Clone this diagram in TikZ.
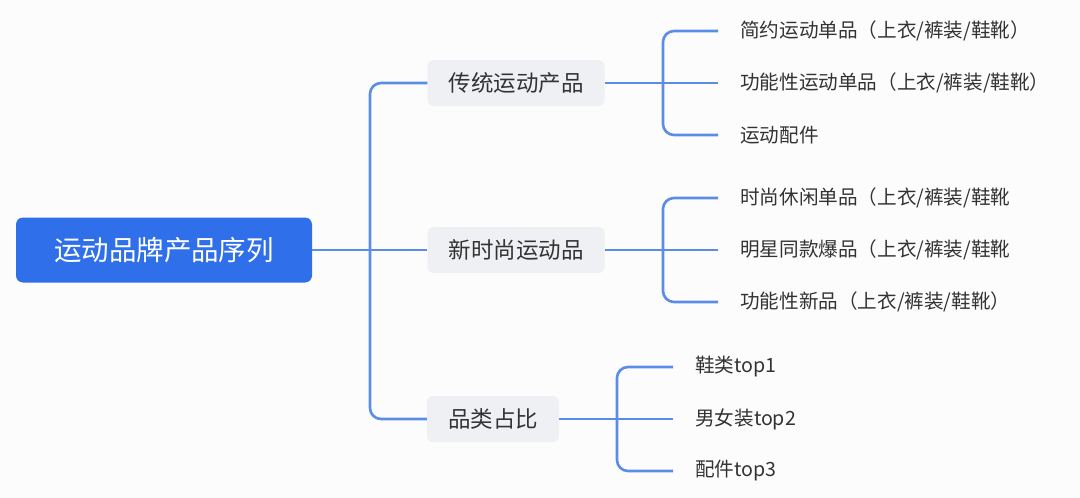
\documentclass[tikz,border=0pt]{standalone}
\usepackage{fontspec}
\setmainfont{Noto Sans CJK SC}
\definecolor{rootblue}{HTML}{2F6FEA}
\definecolor{linkblue}{HTML}{5B8CE6}
\definecolor{boxgray}{HTML}{EEF0F3}
\definecolor{txt}{HTML}{333333}
\definecolor{bg}{HTML}{FCFCFD}
\begin{document}
\begin{tikzpicture}[x=1pt,y=-1pt,
  rootbox/.style={fill=rootblue, rounded corners=7pt, minimum width=296pt, minimum height=65pt,
    text=white, font=\fontsize{27.5}{32}\selectfont, inner sep=0pt},
  branchbox/.style={fill=boxgray, rounded corners=6pt, minimum height=46pt, inner xsep=21pt,
    text=txt, font=\fontsize{22.5}{27}\selectfont},
  leaf/.style={anchor=west, inner xsep=22pt, inner ysep=0pt, text=txt,
    font=\fontsize{19.6}{24}\selectfont},
  conn/.style={draw=linkblue, line width=2.6pt, rounded corners=11pt}]
\useasboundingbox[fill=bg] (0,0) rectangle (1080,498);
% root and branches
\node[rootbox] (root) at (164,250) {运动品牌产品序列};
\node[branchbox] (b1) at (516,83) {传统运动产品};
\node[branchbox] (b2) at (516,250) {新时尚运动品};
\node[branchbox] (b3) at (493,419) {品类占比};
\coordinate (sp) at (370,250);
% leaves
\node[leaf] (l11) at (718,31) {简约运动单品（上衣/裤装/鞋靴）};
\node[leaf] (l12) at (718,83) {功能性运动单品（上衣/裤装/鞋靴）};
\node[leaf] (l13) at (718,135) {运动配件};
\node[leaf] (l21) at (718,198) {时尚休闲单品（上衣/裤装/鞋靴};
\node[leaf] (l22) at (718,250) {明星同款爆品（上衣/裤装/鞋靴};
\node[leaf] (l23) at (718,302) {功能性新品（上衣/裤装/鞋靴）};
\node[leaf] (l31) at (673,367) {鞋类top1};
\node[leaf] (l32) at (673,419) {男女装top2};
\node[leaf] (l33) at (673,471) {配件top3};
\coordinate (j1) at (663,83);
\coordinate (j2) at (663,250);
\coordinate (j3) at (617,419);
% connectors
\draw[conn] (root.east) -- (b2.west);
\draw[conn] (b1.west) -| (sp) |- (b3.west);
\draw[conn] (b1.east) -- (l12.west);
\draw[conn] (l11.west) -| (j1) |- (l13.west);
\draw[conn] (b2.east) -- (l22.west);
\draw[conn] (l21.west) -| (j2) |- (l23.west);
\draw[conn] (b3.east) -- (l32.west);
\draw[conn] (l31.west) -| (j3) |- (l33.west);
\end{tikzpicture}
\end{document}
